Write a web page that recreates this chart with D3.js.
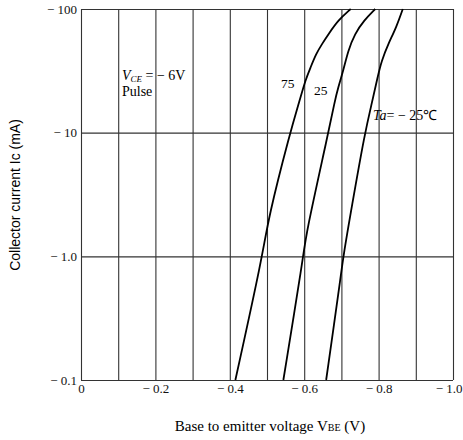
<!DOCTYPE html>
<html><head><meta charset="utf-8">
<script src="https://cdn.jsdelivr.net/npm/d3@7"></script>
<style>body{margin:0;background:#fff}svg{display:block}</style>
</head><body>
<svg id="c" width="463" height="440"></svg>
<script>
// Data: |VBE| (V) vs |Ic| (mA) for each ambient temperature
const vbe75 = [0.415,0.488,0.503,0.562,0.587,0.604,0.617,0.632,0.648,0.666,0.691,0.725];
const ic75  = [0.1,  1.0,  2.02, 10,   17.9, 27,   33.6, 43.4, 52.2, 63,   81,   100];
const vbe25 = [0.544,0.598,0.604,0.665,0.682,0.691,0.705,0.718,0.736,0.761,0.791];
const ic25  = [0.1,  1.0,  1.49, 10,   17.9, 23,   31.6, 46,   63,   81,   100];
const vbeM25 = [0.659,0.696,0.705,0.727,0.763,0.783,0.797,0.808,0.826,0.848,0.865];
const icM25  = [0.1,  0.61, 1.0,  2.43, 10,   17.9, 27.9, 38.2, 52.2, 71.6, 100];
const xGrid = [0,0.1,0.2,0.3,0.4,0.5,0.6,0.7,0.8,0.9,1.0];
const xTickVals = [0,0.2,0.4,0.6,0.8,1.0];
const xTickLabels = ["0","\u2212 0.2","\u2212 0.4","\u2212 0.6","\u2212 0.8","\u2212 1.0"];
const yTickVals = [0.1,1,10,100];
const yTickLabels = ["\u2212 0.1","\u2212 1.0","\u2212 10","\u2212 100"];

const svg = d3.select("#c");
const x = d3.scaleLinear().domain([0,1]).range([81,453]);
const y = d3.scaleLog().domain([0.1,100]).range([380,9]);
const gridCol = "#333";
const serif = "Liberation Serif";

// vertical grid
svg.append("g").attr("transform","translate(0,9)")
  .call(d3.axisBottom(x).tickValues(xGrid).tickSize(371).tickFormat(""))
  .call(g=>g.select(".domain").remove())
  .call(g=>g.selectAll("line").attr("stroke",gridCol).attr("stroke-width",1.1));
// horizontal grid
svg.append("g").attr("transform","translate(81,0)")
  .call(d3.axisRight(y).tickValues(yTickVals).tickSize(372).tickFormat(""))
  .call(g=>g.select(".domain").remove())
  .call(g=>g.selectAll("line").attr("stroke",gridCol).attr("stroke-width",1.1));

// x tick labels
svg.append("g").attr("transform","translate(0,382)")
  .call(d3.axisBottom(x).tickValues(xTickVals).tickSize(0).tickPadding(2)
    .tickFormat((d,i)=>xTickLabels[i]))
  .call(g=>g.select(".domain").remove())
  .call(g=>g.selectAll("text").attr("font-family",serif).attr("font-size",13).attr("fill","#111"))
  .call(g=>g.selectAll("text").filter(d=>d===1).attr("text-anchor","end").attr("x",462-x(1)));
// y tick labels
svg.append("g").attr("transform","translate(79,0)")
  .call(d3.axisLeft(y).tickValues(yTickVals).tickSize(0).tickPadding(2)
    .tickFormat((d,i)=>yTickLabels[i]))
  .call(g=>g.select(".domain").remove())
  .call(g=>g.selectAll("text").attr("font-family",serif).attr("font-size",13).attr("fill","#111"));

// curves
const line = d3.line().x(d=>x(d[0])).y(d=>y(d[1])).curve(d3.curveBasis);
[[vbe75,ic75],[vbe25,ic25],[vbeM25,icM25]].forEach(([vs,is])=>{
  const pts = vs.map((v,i)=>[v,is[i]]).sort((a,b)=>b[1]-a[1]);
  svg.append("path").datum(pts)
    .attr("d",line).attr("fill","none").attr("stroke","#000").attr("stroke-width",1.8);
});

// annotations
svg.append("text").attr("x",281).attr("y",88).attr("font-family",serif).attr("font-size",13.5).text("75");
svg.append("text").attr("x",314).attr("y",95).attr("font-family",serif).attr("font-size",13.5).text("25");
const ta = svg.append("text").attr("x",373).attr("y",120).attr("font-family",serif).attr("font-size",14);
ta.append("tspan").attr("font-style","italic").text("Ta");
ta.append("tspan").text("= \u2212 25\u2103");
const vce = svg.append("text").attr("x",122).attr("y",80).attr("font-family",serif).attr("font-size",14);
vce.append("tspan").attr("font-style","italic").text("V");
vce.append("tspan").attr("font-style","italic").attr("font-size",9).attr("dy",2).text("CE");
vce.append("tspan").attr("dy",-2).text(" = \u2212 6V");
svg.append("text").attr("x",122).attr("y",96).attr("font-family",serif).attr("font-size",14).text("Pulse");

// axis titles
const xt = svg.append("text").attr("x",270).attr("y",431).attr("text-anchor","middle")
  .attr("font-family",serif).attr("font-size",15);
xt.append("tspan").text("Base to emitter voltage  V");
xt.append("tspan").attr("font-size",10).text("BE");
xt.append("tspan").text("  (V)");
const yt = svg.append("text").attr("transform","translate(20,195) rotate(-90)").attr("text-anchor","middle")
  .attr("font-family","Liberation Sans").attr("font-size",14);
yt.text("Collector current  Ic  (mA)");
</script>
</body></html>
